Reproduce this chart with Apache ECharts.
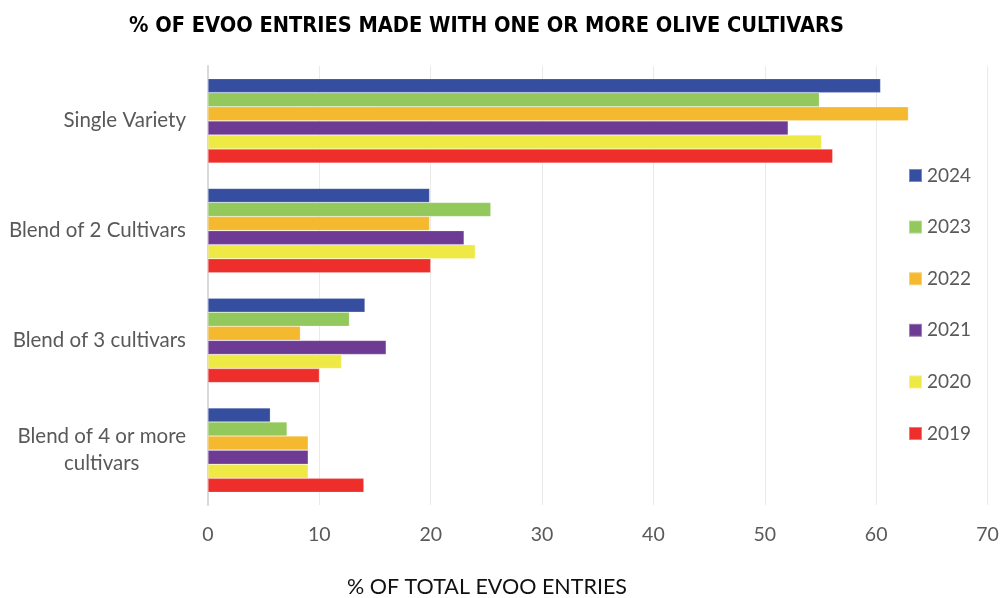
<!DOCTYPE html>
<html><head><meta charset="utf-8">
<script src="https://cdn.jsdelivr.net/npm/echarts@6/dist/echarts.min.js"></script>
<style>html,body{margin:0;padding:0;background:#fff;overflow:hidden}#c{width:1002px;height:598px}</style>
</head><body><div id="c"></div>
<script>
const categories = ['Single Variety', 'Blend of 2 Cultivars', 'Blend of 3 cultivars', 'Blend of 4 or more\ncultivars'];
const years = ['2024', '2023', '2022', '2021', '2020', '2019'];
const v2024 = [60.4, 19.9, 14.1, 5.6];
const v2023 = [54.9, 25.4, 12.7, 7.1];
const v2022 = [62.9, 19.9, 8.3, 9.0];
const v2021 = [52.1, 23.0, 16.0, 9.0];
const v2020 = [55.1, 24.0, 12.0, 9.0];
const v2019 = [56.1, 20.0, 10.0, 14.0];
const colors = ['#354E9F', '#92C85C', '#F4B92F', '#6E3B94', '#EFE946', '#EE2E2B'];
const xTicks = [0, 10, 20, 30, 40, 50, 60, 70];
const xAxisTitle = '% OF TOTAL EVOO ENTRIES';

const values = [v2024, v2023, v2022, v2021, v2020, v2019];
const font = 'Lato, "Open Sans", sans-serif';
const chart = echarts.init(document.getElementById('c'));
chart.setOption({
  animation: false,
  title: {
    text: '% OF EVOO ENTRIES MADE WITH ONE OR MORE OLIVE CULTIVARS',
    left: 124, top: 10,
    textStyle: { fontFamily: '"Liberation Sans Narrow", "DejaVu Sans Condensed", sans-serif', fontWeight: 'bold', fontSize: 21.6, color: '#000' }
  },
  legend: {
    orient: 'vertical', left: 903, top: 161,
    itemWidth: 13, itemHeight: 13, itemGap: 32.6,
    icon: 'rect',
    data: years,
    textStyle: { fontFamily: font, fontSize: 19, color: '#595959' }
  },
  grid: { left: 208, width: 779.5, top: 66, height: 439, containLabel: false },
  xAxis: {
    type: 'value', min: xTicks[0], max: xTicks[xTicks.length - 1], interval: 10,
    axisLine: { show: false }, axisTick: { show: false },
    splitLine: { lineStyle: { color: '#EAEAEA', width: 1 } },
    axisLabel: { fontFamily: font, fontSize: 19.5, color: '#595959', margin: 20 }
  },
  yAxis: {
    type: 'category', data: categories, inverse: true,
    axisLine: { show: true, lineStyle: { color: '#D9D9D9', width: 2 } },
    axisTick: { show: false },
    axisLabel: {
      fontFamily: font, fontSize: 20.5, color: '#595959', margin: 22, lineHeight: 27, align: 'right',
      formatter: v => v.split('\n').map(s => '{c|' + s + '}').join('\n'),
      rich: { c: { align: 'center', fontFamily: font, fontSize: 20.5, color: '#595959', lineHeight: 27 } }
    }
  },
  graphic: [{
    type: 'text', left: 487 - 140, top: 576,
    style: { text: xAxisTitle, fontFamily: font, fontSize: 21.5, fill: '#111' }
  }],
  series: years.map((y, i) => ({
    name: y, type: 'bar', data: values[i],
    barGap: '0%', barCategoryGap: '23%',
    itemStyle: { color: colors[i], borderColor: 'rgba(255,255,255,0.35)', borderWidth: 0.6 }
  }))
});
</script></body></html>
